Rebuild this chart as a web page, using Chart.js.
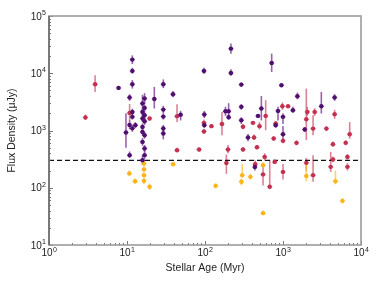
<!DOCTYPE html>
<html><head><meta charset="utf-8">
<script src="https://cdn.jsdelivr.net/npm/chart.js@4/dist/chart.umd.min.js"></script>
<style>html,body{margin:0;padding:0;background:#fff}canvas{display:block}</style>
</head><body>
<canvas id="c" width="381" height="286"></canvas>
<script>
// ---- data (age in Myr, flux density in uJy, error-bar low/high) ----
const purpleAge  = [7.8, 9.7, 10.8, 10.8, 10.8, 11.7, 11.7, 11.7, 11.7, 11.7, 11.7, 12.8,
  15.8, 15.8, 15.8, 15.8, 15.8, 15.8, 15.8, 16.8, 16.8, 16.8, 16.8, 16.8, 16.8, 16.8,
  22.4, 29.2, 29.2, 29.2, 29.2, 29.2, 38.9, 48.7, 97, 98, 98, 183, 201, 201, 215, 215,
  292, 292, 292, 356, 436, 478, 528, 716, 806, 863, 955, 1000, 1000, 1340, 1530, 1900, 3100, 4590];
const purpleFlux = [5550, 920, 3760, 1250, 371, 17300, 11000, 6430, 2110, 1730, 1090, 1240,
  2960, 2110, 1620, 1155, 946, 632, 303, 3620, 2480, 1850, 1450, 828, 485, 371,
  3560, 6430, 2320, 1750, 1085, 887, 4300, 1880, 11000, 1900, 1240, 2170, 2170, 1700, 26900, 10100,
  6340, 2590, 1510, 755, 230, 1800, 2420, 15100, 1240, 2200, 6180, 1730, 862, 2260, 3970, 1040, 2650, 3770];
const purpleLow  = [5200, 500, 3300, 1050, 330, 14500, 9800, 5400, 1850, 1550, 950, 1100,
  1800, 1850, 1420, 1000, 820, 540, 250, 2900, 2150, 1600, 1250, 720, 420, 320,
  2420, 5500, 2000, 1550, 950, 700, 3800, 1500, 9700, 1650, 1100, 1800, 1800, 1550, 22000, 9000,
  5800, 2300, 1300, 650, 200, 1650, 1500, 10500, 1100, 1500, 5900, 1300, 650, 2050, 3500, 950, 1980, 3300];
const purpleHigh = [5900, 2000, 4300, 1500, 430, 20500, 12500, 7600, 2400, 1950, 1250, 1400,
  4200, 2400, 1850, 1330, 1090, 740, 370, 4500, 2850, 2150, 1700, 950, 560, 430,
  5770, 7800, 2700, 2000, 1250, 1050, 4900, 2200, 12500, 2200, 1400, 2600, 3000, 1900, 33000, 11800,
  6900, 2900, 1700, 870, 270, 1950, 4000, 22000, 1350, 2600, 6500, 2000, 1200, 2600, 4600, 1150, 4720, 4300];

const redAge  = [2.93, 3.9, 10.8, 19.5, 43.8, 43.8, 84, 97, 97, 121, 165, 188, 197, 307, 307,
  412, 425, 464, 440, 500, 555, 582, 600, 676, 760, 783, 806, 982, 1000, 1000, 1160, 1490,
  1990, 2050, 1990, 2430, 2550, 2430, 3600, 4090, 4370, 4370, 4590, 6370, 6700, 6700, 7160];
const redFlux = [1690, 6430, 2030, 1620, 1780, 453, 465, 1360, 960, 1190, 1300, 270, 467, 1160, 467,
  1360, 755, 510, 258, 1190, 171, 346, 1800, 104, 724, 283, 1325, 2650, 660, 189, 2650, 608,
  1570, 2110, 272, 1080, 2110, 166, 1080, 232, 312, 575, 1920, 608, 346, 232, 862];
const redLow  = [1550, 4720, 1450, 1500, 1410, 420, 430, 1200, 880, 1100, 830, 175, 400, 1050, 430,
  1250, 680, 470, 220, 1050, 110, 300, 1010, 95, 660, 260, 1200, 2300, 600, 140, 2500, 550,
  680, 1800, 200, 830, 1800, 127, 980, 189, 280, 520, 1600, 550, 310, 200, 720];
const redHigh = [1900, 9230, 2900, 1750, 2880, 500, 500, 1550, 1050, 1300, 2110, 380, 560, 1300, 510,
  1450, 850, 560, 300, 1400, 260, 400, 3380, 303, 790, 310, 1450, 3100, 730, 260, 2800, 670,
  5400, 2600, 330, 1840, 2450, 371, 1200, 423, 350, 640, 2300, 680, 390, 270, 1400];

const orangeAge  = [10.7, 12.7, 16.5, 16.5, 16.5, 16.5, 19.5, 39, 137, 293, 300, 382, 555, 555, 1990, 4700, 5780];
const orangeFlux = [178, 130, 265, 209, 166, 132, 104, 258, 108, 127, 166, 155, 248, 36, 160, 130, 59];
const orangeLow  = [160, 118, 235, 190, 150, 115, 92, 240, 98, 110, 150, 140, 220, 33, 130, 115, 53];
const orangeHigh = [200, 145, 300, 230, 185, 150, 118, 280, 120, 145, 260, 175, 280, 40, 270, 200, 66];

const thresholdFlux = 300;
const xMajorTicks = [1, 10, 100, 1000, 10000];
const xTickExponents = ['0', '1', '2', '3', '4'];
const yMajorTicks = [10, 100, 1000, 10000, 100000];
const yTickExponents = ['1', '2', '3', '4', '5'];
const xTitle = 'Stellar Age (Myr)';
const yTitle = 'Flux Density (\u03bcJy)';

// ---- build ----
const FONT = '"Liberation Sans", Arial, Helvetica, sans-serif';
function pts(a, f, lo, hi) { return a.map((x, i) => ({x: x, y: f[i], lo: lo[i], hi: hi[i]})); }
const groups = [
  {label: 'purple', data: pts(purpleAge, purpleFlux, purpleLow, purpleHigh), color: '#4f0f6e', err: 'rgba(110,40,140,0.72)'},
  {label: 'red', data: pts(redAge, redFlux, redLow, redHigh), color: '#c4304f', err: 'rgba(205,70,100,0.68)'},
  {label: 'orange', data: pts(orangeAge, orangeFlux, orangeLow, orangeHigh), color: '#fbb41c', err: 'rgba(252,190,60,0.72)'}
];

const errorBars = {
  id: 'errorBars',
  beforeDatasetsDraw(chart) {
    const {ctx, scales: {x, y}} = chart;
    ctx.save();
    chart.data.datasets.forEach((ds) => {
      if (!ds.errColor) return;
      ctx.strokeStyle = ds.errColor;
      ds.data.forEach((p) => {
        const px = x.getPixelForValue(p.x);
        ctx.lineWidth = 1.6;
        ctx.beginPath();
        ctx.moveTo(px, y.getPixelForValue(p.lo));
        ctx.lineTo(px, y.getPixelForValue(p.hi));
        ctx.stroke();
        const py = y.getPixelForValue(p.y);
        ctx.lineWidth = 1;
        ctx.beginPath();
        ctx.moveTo(px - 2.6, py); ctx.lineTo(px + 2.6, py);
        ctx.stroke();
      });
    });
    ctx.restore();
  }
};

const frame = {
  id: 'frame',
  afterDraw(chart) {
    const {ctx, chartArea: a, scales: {x, y}} = chart;
    ctx.save();
    ctx.strokeStyle = '#555';
    ctx.lineWidth = 0.8;
    const decadeTicks = (min, max) => {
      const out = [];
      for (let d = min; d < max; d *= 10) for (let m = 1; m < 10; m++) out.push({v: d * m, major: m === 1});
      out.push({v: max, major: true});
      return out;
    };
    decadeTicks(1, 10000).forEach(t => {
      const px = Math.round(x.getPixelForValue(t.v)) + 0.5;
      const len = t.major ? 4 : 2;
      ctx.beginPath(); ctx.moveTo(px, a.bottom); ctx.lineTo(px, a.bottom - len); ctx.stroke();
    });
    decadeTicks(10, 100000).forEach(t => {
      const py = Math.round(y.getPixelForValue(t.v)) + 0.5;
      const len = t.major ? 4 : 2;
      ctx.beginPath(); ctx.moveTo(a.left, py); ctx.lineTo(a.left + len, py); ctx.stroke();
    });
    ctx.strokeStyle = '#9c9c9c';
    ctx.lineWidth = 1.6;
    ctx.strokeRect(a.left, a.top, a.right - a.left, a.bottom - a.top);
    ctx.strokeStyle = '#555';
    ctx.lineWidth = 1.2;
    ctx.beginPath(); ctx.moveTo(a.left, a.top); ctx.lineTo(a.left, a.bottom); ctx.stroke();
    ctx.fillStyle = '#222';
    ctx.textBaseline = 'alphabetic';
    const big = '10px ' + FONT, small = '7px ' + FONT;
    xMajorTicks.forEach((v, i) => {
      const px = x.getPixelForValue(v);
      ctx.font = big; const w1 = ctx.measureText('10').width;
      ctx.font = small; const w2 = ctx.measureText(xTickExponents[i]).width;
      const x0 = px - (w1 + w2) / 2;
      ctx.font = big; ctx.textAlign = 'left'; ctx.fillText('10', x0, a.bottom + 11);
      ctx.font = small; ctx.fillText(xTickExponents[i], x0 + w1 + 0.3, a.bottom + 6.5);
    });
    yMajorTicks.forEach((v, i) => {
      const py = y.getPixelForValue(v);
      ctx.font = small; const w2 = ctx.measureText(yTickExponents[i]).width;
      ctx.font = big; const w1 = ctx.measureText('10').width;
      const xr = a.left - 3;
      ctx.textAlign = 'left';
      ctx.font = big; ctx.fillText('10', xr - w2 - w1 - 0.3, py + 3.5);
      ctx.font = small; ctx.fillText(yTickExponents[i], xr - w2, py - 1);
    });
    ctx.restore();
  }
};

const datasets = groups.map(g => ({
  label: g.label, data: g.data, backgroundColor: g.color, borderColor: g.color,
  pointRadius: 2.2, pointBorderWidth: 0, pointHoverRadius: 2.2, errColor: g.err, showLine: false
}));
datasets.push({
  type: 'line', label: 'threshold',
  data: [{x: xMajorTicks[0], y: thresholdFlux}, {x: xMajorTicks[xMajorTicks.length - 1], y: thresholdFlux}],
  borderColor: '#111', borderWidth: 1.2, borderDash: [5, 3], pointRadius: 0, fill: false
});

new Chart(document.getElementById('c'), {
  type: 'scatter',
  data: {datasets},
  plugins: [errorBars, frame],
  options: {
    responsive: false, animation: false, devicePixelRatio: 1,
    layout: {padding: {top: 16, right: 20, left: 0, bottom: 0}},
    plugins: {legend: {display: false}, tooltip: {enabled: false}},
    scales: {
      x: {
        type: 'logarithmic', min: 1, max: 10000,
        grid: {display: false}, border: {display: false},
        ticks: {display: false},
        title: {display: true, text: xTitle, color: '#222', font: {family: FONT, size: 10.5}, padding: {bottom: 12, top: 0}},
        afterFit(s) { s.height = 41; }
      },
      y: {
        type: 'logarithmic', min: 10, max: 100000,
        grid: {display: false}, border: {display: false},
        ticks: {display: false},
        title: {display: true, text: yTitle, color: '#222', font: {family: FONT, size: 10.5}, padding: {top: 6, bottom: 0}},
        afterFit(s) { s.width = 49; }
      }
    }
  }
});
</script>
</body></html>
